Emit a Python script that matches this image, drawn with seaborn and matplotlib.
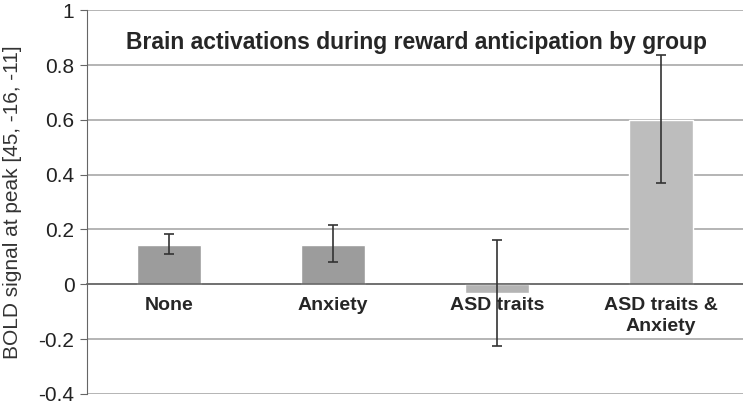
import numpy as np
import pandas as pd
import seaborn as sns
import matplotlib.pyplot as plt

# Data
groups = ["None", "Anxiety", "ASD traits", "ASD traits &\nAnxiety"]
bold_signal = [0.145, 0.145, -0.03, 0.60]
err_low = [0.11, 0.08, -0.225, 0.37]
err_high = [0.185, 0.215, 0.16, 0.835]
bar_colors = ["#9c9c9c", "#9c9c9c", "#b4b4b4", "#bdbdbd"]

df = pd.DataFrame({"group": groups, "signal": bold_signal})

sns.set_style("white")
plt.rcParams["font.family"] = ["Liberation Sans", "DejaVu Sans"]

fig = plt.figure(figsize=(7.43, 4.07), dpi=100)
ax = fig.add_axes([0.117, 0.032, 0.883, 0.943])

sns.barplot(data=df, x="group", y="signal", hue="group", palette=bar_colors,
            legend=False, width=0.39, ax=ax, zorder=2)

# error bars
vals = np.array(bold_signal)
yerr = [vals - np.array(err_low), np.array(err_high) - vals]
ax.errorbar(np.arange(len(groups)), vals, yerr=yerr, fmt="none",
            ecolor="#333333", elinewidth=1.2, capsize=3.5, capthick=1.2, zorder=3)

ax.set_ylim(-0.4, 1.0)
ax.set_xlim(-0.5, 3.5)
ax.set_yticks(np.arange(-0.4, 1.01, 0.2))
ax.set_yticklabels(["-0.4", "-0.2", "0", "0.2", "0.4", "0.6", "0.8", "1"], fontsize=15,
                   color="#222222")
ax.yaxis.grid(True, color="#a8a8a8", linewidth=1.2, zorder=0)
ax.set_axisbelow(True)

# category axis sits on zero line
ax.spines["bottom"].set_position(("data", 0))
ax.spines["bottom"].set_color("#666666")
ax.spines["bottom"].set_linewidth(1.2)
ax.spines["left"].set_color("#666666")
ax.spines["top"].set_visible(False)
ax.spines["right"].set_visible(False)

ax.set_xticks(range(len(groups)))
ax.set_xticklabels(groups, fontsize=14, fontweight="bold", linespacing=1.3)
ax.set_xticks([0.5, 1.5, 2.5], minor=True)
ax.tick_params(axis="x", which="major", length=0, pad=9)
ax.tick_params(axis="x", which="minor", length=4, color="#666666", direction="out")
ax.tick_params(axis="y", length=5, color="#666666", direction="out", left=True, pad=4)

ax.set_xlabel("")
ax.set_ylabel("BOLD signal at peak [45, -16, -11]", fontsize=15, labelpad=12,
              color="#333333")
ax.text(0.502, 0.917, "Brain activations during reward anticipation by group",
        transform=ax.transAxes, ha="center", va="center",
        fontsize=16.5, fontweight="bold")

fig.savefig("out.png", dpi=100)
